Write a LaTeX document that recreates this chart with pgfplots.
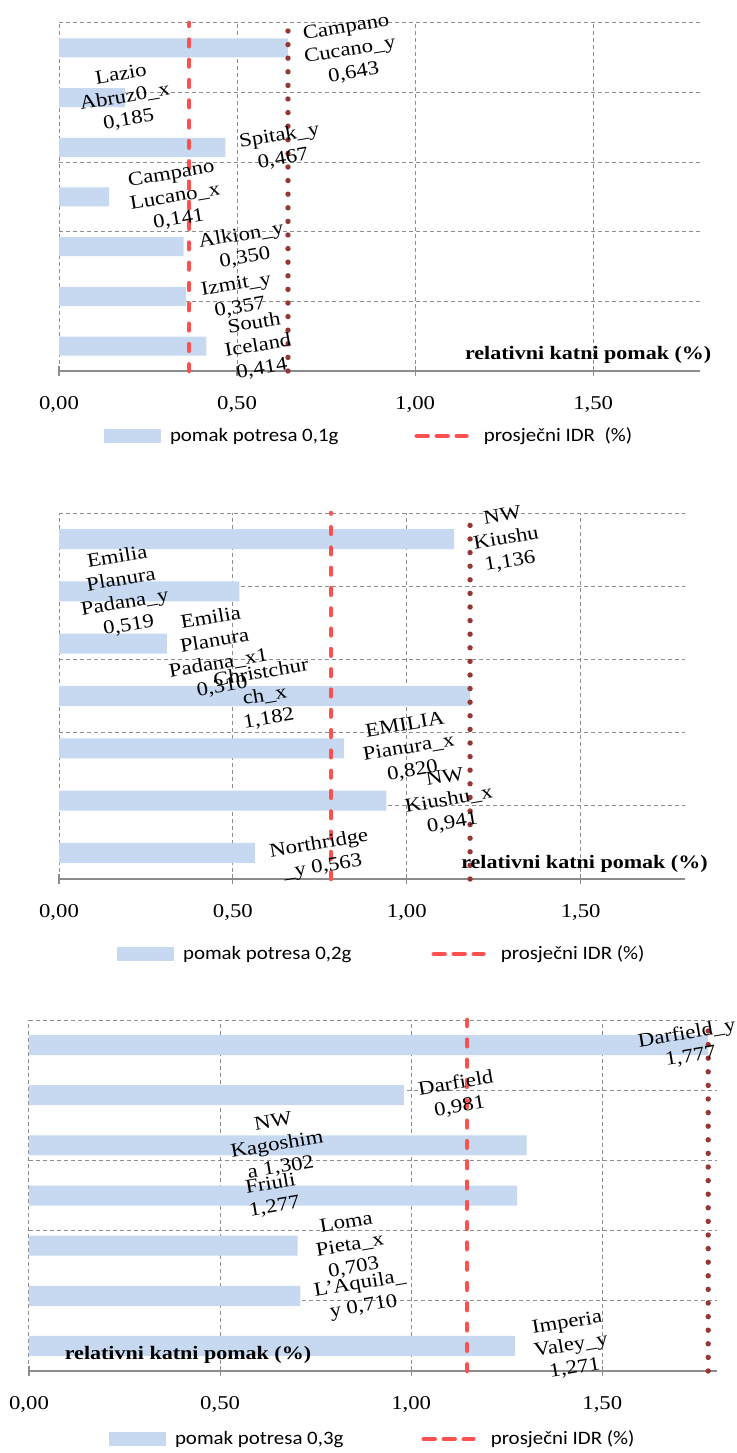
\documentclass[border=0pt]{standalone}
\usepackage{fontspec}
\setmainfont{Liberation Serif}[FakeStretch=1.16]
\newfontfamily\legfont{Carlito}[FakeStretch=1.1]
\usepackage{pgfplots}
\pgfplotsset{compat=1.18}
\definecolor{barblue}{HTML}{C6D9F1}
\definecolor{idrred}{HTML}{FF5050}
\definecolor{maxred}{HTML}{953735}
\definecolor{gridgray}{HTML}{8C8C8C}
\pgfplotsset{
 panel/.style={
  scale only axis,
  xmin=0, xmax=1.8, ymin=0, ymax=7,
  xtick={0,0.5,1,1.5},
  xticklabels={{0,00},{0,50},{1,00},{1,50}},
  ytick={0,1.4,2.8,4.2,5.6,7},
  yticklabels={},
  xmajorgrids, ymajorgrids,
  grid style={gridgray, line width=0.5pt, dash pattern=on 2pt off 1.5pt},
  axis x line*=bottom,
  axis y line*=left,
  y axis line style={draw=none},
  x axis line style={draw=gridgray, line width=0.8pt, -},
  ytick style={draw=none},
  xtick style={draw=gridgray, line width=0.6pt},
  tick align=center, major tick length=5pt,
  xticklabel style={font=\fontsize{9.8}{11}\selectfont, anchor=center, yshift=-14pt},
  clip=false,
  legend columns=2,
  legend style={draw=none, fill=none, inner sep=0pt, outer sep=0pt, anchor=west,
    font=\legfont\fontsize{9.5}{11}\selectfont, nodes={inner sep=0pt},
    /tikz/every odd column/.append style={column sep=4.5pt}},
 },
 barleg/.style={legend image code/.code={\fill[barblue] (0pt,-3.5pt) rectangle (28.5pt,3.5pt);}},
 redleg/.style={legend image code/.code={\draw[idrred, line width=2.2pt, line cap=round, dash pattern=on 5.5pt off 4.5pt] (1.1pt,0pt) -- (26pt,0pt); \path (29pt,0pt);}},
 idrline/.style={idrred, line width=2.3pt, line cap=round, dash pattern=on 3.3pt off 6.85pt},
 maxline/.style={maxred, line width=2.7pt, line cap=round, dash pattern=on 0pt off 6.8pt},
}
\tikzset{
 lab/.style={rotate=9.5, align=center, font=\fontsize{9.8}{11.5}\selectfont, inner sep=0pt},
 ttl/.style={font=\bfseries\fontsize{9.5}{11}\selectfont, inner sep=0pt},
}
\begin{document}
\begin{tikzpicture}
\path[use as bounding box] (0pt,0pt) rectangle (368.5pt,726.5pt);
% ---------------- panel 1 ----------------
\begin{axis}[panel, at={(29.5pt,541pt)}, anchor=south west, width=320.5pt, height=174pt,
  legend style={at={(0.0702,-0.187)}, /tikz/every even column/.append style={column sep=38pt}}]
\addplot[xbar, bar width=9.5pt, fill=barblue, draw=none, barleg] coordinates
 {(0.643,6.5) (0.185,5.5) (0.467,4.5) (0.141,3.5) (0.350,2.5) (0.357,1.5) (0.414,0.5)};
\addlegendentry{pomak potresa 0,1g}
\addplot[maxline, forget plot] coordinates {(0.643,0) (0.643,7)};
\addplot[idrline, redleg] coordinates {(0.365,0) (0.365,7)};
\addlegendentry{prosječni IDR~~(\%)}
\node[lab] at (axis cs:0.817,6.45) {Campano\\Cucano\_y\\0,643};
\node[lab] at (axis cs:0.185,5.5) {Lazio\\Abruz0\_x\\0,185};
\node[lab] at (axis cs:0.624,4.5) {Spitak\_y\\0,467};
\node[lab] at (axis cs:0.326,3.5) {Campano\\Lucano\_x\\0,141};
\node[lab] at (axis cs:0.517,2.5) {Alkion\_y\\0,350};
\node[lab] at (axis cs:0.503,1.5) {Izmit\_y\\0,357};
\node[lab] at (axis cs:0.559,0.5) {South\\Iceland\\0,414};
\node[ttl] at (axis cs:1.486,0.32) {relativni katni pomak (\%)};
\end{axis}
% ---------------- panel 2 ----------------
\begin{axis}[panel, at={(29.5pt,287pt)}, anchor=south west, width=313pt, height=183pt,
  legend style={at={(0.0927,-0.205)}, /tikz/every even column/.append style={column sep=40pt}}]
\addplot[xbar, bar width=10pt, fill=barblue, draw=none, barleg] coordinates
 {(1.136,6.5) (0.519,5.5) (0.310,4.5) (1.182,3.5) (0.820,2.5) (0.941,1.5) (0.563,0.5)};
\addlegendentry{pomak potresa 0,2g}
\addplot[maxline, forget plot] coordinates {(1.182,0) (1.182,7)};
\addplot[idrline, redleg] coordinates {(0.782,0) (0.782,7)};
\addlegendentry{prosječni IDR (\%)}
\node[lab] at (axis cs:1.286,6.5) {NW\\Kiushu\\1,136};
\node[lab] at (axis cs:0.184,5.5) {Emilia\\Planura\\Padana\_y\\0,519};
\node[lab] at (axis cs:0.453,4.33) {Emilia\\Planura\\Padana\_x1\\0,310};
\node[lab] at (axis cs:0.592,3.5) {Christchur\\ch\_x\\1,182};
\node[lab] at (axis cs:1.006,2.5) {EMILIA\\Pianura\_x\\0,820};
\node[lab] at (axis cs:1.121,1.5) {NW\\Kiushu\_x\\0,941};
\node[lab] at (axis cs:0.753,0.44) {Northridge\\\_y 0,563};
\node[ttl] at (axis cs:1.511,0.287) {relativni katni pomak (\%)};
\end{axis}
% ---------------- panel 3 ----------------
\begin{axis}[panel, at={(14.5pt,41pt)}, anchor=south west, width=344pt, height=175.5pt,
  legend style={at={(0.1163,-0.194)}, /tikz/every even column/.append style={column sep=39pt}}]
\addplot[xbar, bar width=10pt, fill=barblue, draw=none, barleg] coordinates
 {(1.777,6.5) (0.981,5.5) (1.302,4.5) (1.277,3.5) (0.703,2.5) (0.710,1.5) (1.271,0.5)};
\addlegendentry{pomak potresa 0,3g}
\addplot[maxline, forget plot] coordinates {(1.777,0) (1.777,7)};
\addplot[idrline, redleg] coordinates {(1.146,0) (1.146,7)};
\addlegendentry{prosječni IDR (\%)}
\node[lab] at (axis cs:1.726,6.5) {Darfield\_y\\1,777};
\node[lab] at (axis cs:1.122,5.5) {Darfield\\0,981};
\node[lab] at (axis cs:0.649,4.5) {NW\\Kagoshim\\a 1,302};
\node[lab] at (axis cs:0.637,3.5) {Friuli\\1,277};
\node[lab] at (axis cs:0.840,2.5) {Loma\\Pieta\_x\\0,703};
\node[lab] at (axis cs:0.871,1.5) {L'Aquila\_\\y 0,710};
\node[lab] at (axis cs:1.418,0.5) {Imperia\\Valey\_y\\1,271};
\node[ttl] at (axis cs:0.416,0.319) {relativni katni pomak (\%)};
\end{axis}
\end{tikzpicture}
\end{document}
